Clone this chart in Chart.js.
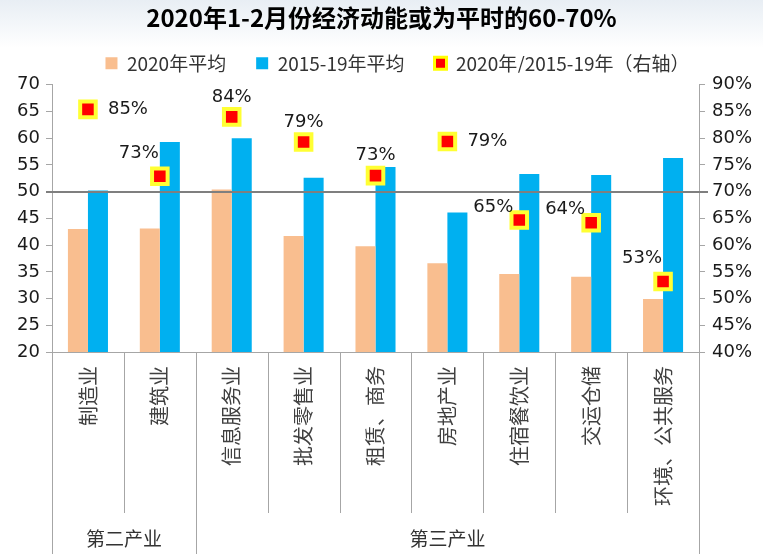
<!DOCTYPE html>
<html><head><meta charset="utf-8">
<script src="https://cdn.jsdelivr.net/npm/chart.js@4.4.1/dist/chart.umd.min.js"></script>
<style>html,body{margin:0;padding:0;background:#fff}#wrap{width:763px;height:554px;position:relative}</style>
</head><body><div id="wrap"><canvas id="c"></canvas></div>
<script>
const categories = ['制造业','建筑业','信息服务业','批发零售业','租赁、商务','房地产业','住宿餐饮业','交运仓储','环境、公共服务'];
const avg2020 = [43.0, 43.1, 50.4, 41.7, 39.8, 36.6, 34.6, 34.1, 29.9];
const avg2015to19 = [50.2, 59.3, 60.0, 52.6, 54.6, 46.1, 53.3, 53.1, 56.3];
const ratio = [85.4, 72.9, 84.0, 79.3, 73.0, 79.4, 64.7, 64.2, 53.2];
const ratioLabelSide = ['right','upleft','up','up','up','right','left','left','upleft'];
const groups = ['第二产业','第三产业'];
const groupSizes = [2, 7];
const leftTicks = [20,25,30,35,40,45,50,55,60,65,70];
const rightTicks = [40,45,50,55,60,65,70,75,80,85,90];
const refLineValue = 50;

const CJK = '"Noto Sans CJK SC", "Noto Sans", sans-serif';
const NUM = '"DejaVu Sans", sans-serif';

const decor = {
  id: 'decor',
  beforeLayout(chart) {
    const lg = chart.legend;
    if (lg && !lg._patched) {
      const f = lg.fit;
      lg.fit = function () { f.call(this); this.height -= 10; };
      lg._patched = true;
    }
  },
  afterLayout(chart) {
    const lg = chart.legend;
    if (lg) { lg.top -= 12; lg.bottom -= 12; lg.left += 16; lg.right += 16; }
  },
  beforeDraw(chart) {
    const {ctx, width} = chart;
    const g = ctx.createLinearGradient(0, 0, 0, 48);
    g.addColorStop(0, '#e8eef4');
    g.addColorStop(1, '#ffffff');
    ctx.save();
    ctx.fillStyle = g;
    ctx.fillRect(0, 0, width, 48);
    ctx.restore();
  },
  afterDatasetsDraw(chart) {
    const {ctx, chartArea, scales} = chart;
    const y = Math.round(scales.y.getPixelForValue(refLineValue));
    ctx.save();
    ctx.strokeStyle = '#7f7f7f';
    ctx.lineWidth = 2;
    ctx.beginPath();
    ctx.moveTo(chartArea.left - 6, y);
    ctx.lineTo(chartArea.right + 9, y);
    ctx.stroke();

    const meta = chart.getDatasetMeta(2);
    ctx.font = '18px ' + NUM;
    ctx.fillStyle = '#1a1a1a';
    meta.data.forEach((pt, i) => {
      const txt = Math.round(ratio[i]) + '%';
      const side = ratioLabelSide[i];
      let x = pt.x, yy = pt.y;
      ctx.textBaseline = 'middle';
      if (side === 'right') { ctx.textAlign = 'left'; x += 20; }
      else if (side === 'up') { ctx.textAlign = 'center'; yy -= 20; }
      else if (side === 'upleft') { ctx.textAlign = 'center'; x -= 21; yy -= 23; }
      else if (side === 'left') { ctx.textAlign = 'right'; x -= 6; yy -= 13; }
      ctx.fillText(txt, x, yy);
    });
    ctx.restore();
  },
  afterDraw(chart) {
    const {ctx, chartArea, scales, height} = chart;
    const xs = scales.x;
    const n = categories.length;
    const bounds = [];
    for (let i = 0; i <= n; i++) {
      if (i === 0) bounds.push(chartArea.left);
      else if (i === n) bounds.push(chartArea.right);
      else bounds.push((xs.getPixelForValue(i - 1) + xs.getPixelForValue(i)) / 2);
    }
    const groupEdges = [0];
    groupSizes.forEach(s => groupEdges.push(groupEdges[groupEdges.length - 1] + s));
    ctx.save();
    ctx.strokeStyle = '#a6a6a6';
    ctx.lineWidth = 1;
    bounds.forEach((bx, i) => {
      const xx = Math.round(bx) + 0.5;
      const full = groupEdges.includes(i);
      ctx.beginPath();
      ctx.moveTo(xx, chartArea.bottom);
      ctx.lineTo(xx, full ? height : chartArea.bottom + 161);
      ctx.stroke();
    });
    ctx.font = '19px ' + CJK;
    ctx.fillStyle = '#333';
    ctx.textAlign = 'center';
    ctx.textBaseline = 'middle';
    groups.forEach((g, k) => {
      const cx = (bounds[groupEdges[k]] + bounds[groupEdges[k + 1]]) / 2;
      ctx.fillText(g, cx, height - 15);
    });
    ctx.restore();
  }
};

new Chart(document.getElementById('c'), {
  data: {
    labels: categories,
    datasets: [
      { type: 'bar', label: '2020年平均', data: avg2020, backgroundColor: '#F9BE8F', borderWidth: 0, yAxisID: 'y', order: 2 },
      { type: 'bar', label: '2015-19年平均', data: avg2015to19, backgroundColor: '#00B0F0', borderWidth: 0, yAxisID: 'y', order: 2 },
      { type: 'line', label: '2020年/2015-19年（右轴）', data: ratio, yAxisID: 'y1', showLine: false,
        backgroundColor: '#FF0000', borderColor: '#FFFF00', borderWidth: 3,
        pointStyle: 'rect', pointRadius: 11, pointHoverRadius: 11,
        pointBackgroundColor: '#FF0000', pointBorderColor: '#FFFF33', pointBorderWidth: 4, order: 1 }
    ]
  },
  options: {
    responsive: true, maintainAspectRatio: false, animation: false,
    devicePixelRatio: 1,
    layout: { padding: 0 },
    datasets: { bar: { categoryPercentage: 0.557, barPercentage: 1 } },
    plugins: {
      tooltip: { enabled: false },
      title: { display: true, text: '2020年1-2月份经济动能或为平时的60-70%', color: '#000',
        font: { family: CJK, size: 24, weight: 'bold' }, padding: { top: 3, bottom: 4 } },
      legend: { display: true, position: 'top',
        labels: { boxWidth: 12, boxHeight: 12, padding: 30, color: '#333', font: { family: CJK, size: 19 },
          sort: (a, b) => a.datasetIndex - b.datasetIndex } }
    },
    scales: {
      x: {
        grid: { display: false, drawTicks: false },
        border: { display: true, color: '#a6a6a6' },
        ticks: { minRotation: 90, maxRotation: 90, autoSkip: false, padding: 14, color: '#404040',
          font: { family: CJK, size: 20 } },
        afterFit(s) { s.height = 202; }
      },
      y: {
        position: 'left', min: 20, max: 70,
        afterBuildTicks(s) { s.ticks = leftTicks.map(v => ({ value: v })); },
        grid: { drawOnChartArea: false, drawTicks: true, tickLength: 6, color: '#a6a6a6' },
        border: { display: true, color: '#a6a6a6' },
        ticks: { padding: 6, color: '#1a1a1a', font: { family: NUM, size: 18 } },
        afterFit(s) { s.width = 52; }
      },
      y1: {
        position: 'right', min: 40, max: 90,
        afterBuildTicks(s) { s.ticks = rightTicks.map(v => ({ value: v })); },
        grid: { drawOnChartArea: false, drawTicks: true, tickLength: 6, color: '#a6a6a6' },
        border: { display: true, color: '#a6a6a6' },
        ticks: { padding: 7, color: '#1a1a1a', font: { family: NUM, size: 18 }, callback: v => v + '%' },
        afterFit(s) { s.width = 64; }
      }
    }
  },
  plugins: [decor]
});
</script></body></html>
